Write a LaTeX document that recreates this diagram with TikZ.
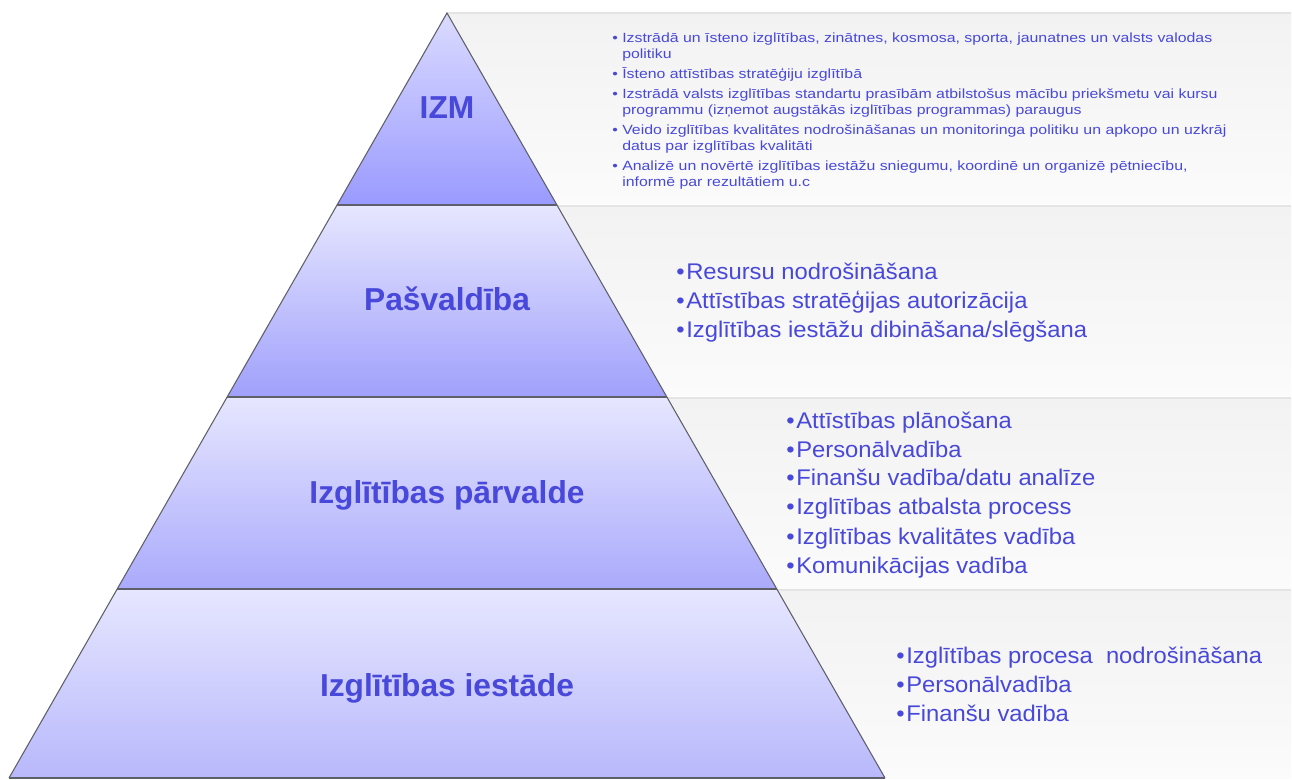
\documentclass[tikz,border=0pt]{standalone}
\usepackage{fontspec}
\setmainfont{Liberation Sans}
\newfontfamily\smallfont[FakeStretch=1.19]{Liberation Sans}
\newfontfamily\bigfont[FakeStretch=1.05]{Liberation Sans}
\definecolor{txt}{RGB}{72,72,218}
\definecolor{edgec}{RGB}{95,95,105}
\definecolor{bandtop}{RGB}{242,242,242}
\definecolor{bandbot}{RGB}{251,251,251}
\definecolor{bandline}{RGB}{228,228,228}
\definecolor{ttop}{RGB}{230,230,255}
\definecolor{tb1}{RGB}{154,154,255}
\definecolor{tb2}{RGB}{160,160,252}
\definecolor{tb3}{RGB}{170,170,252}
\definecolor{tb4}{RGB}{184,184,252}
\newcommand{\smb}[1]{\makebox[7.5pt][l]{\textbullet}#1}
\newcommand{\smc}[1]{\hspace*{7.5pt}#1}
\newcommand{\bgb}[1]{\makebox[7.5pt][l]{\textbullet}#1}
\tikzset{
  tierlabel/.style={text=txt, font=\fontsize{23.8}{26}\selectfont\bfseries, anchor=base},
  smalllist/.style={text=txt, font=\smallfont\fontsize{10}{12}\selectfont, anchor=base west, inner sep=0pt},
  biglist/.style={text=txt, font=\bigfont\fontsize{17}{21.75}\selectfont, anchor=base west, inner sep=0pt},
  tieredge/.style={draw=edgec, line width=0.8pt},
  sep/.style={draw=edgec, line width=1.5pt},
}
\begin{document}
\begin{tikzpicture}[x=0.75pt,y=-0.75pt]
\useasboundingbox (0,0) rectangle (1292,780);
\fill[white] (0,0) rectangle (1292,780);
% background bands
\foreach \ya/\yb in {13/204,206/396,398/588,590/778}{
  \shade[top color=bandtop, bottom color=bandbot] (447,\ya) rectangle (1291,\yb);
  \draw[bandline, line width=1.5pt] (447,\ya) -- (1291,\ya);
}
% pyramid tiers
\shade[top color=ttop!85!tb1, bottom color=tb1] (447,13) -- (556.9,205) -- (337.1,205) -- cycle;
\shade[top color=ttop, bottom color=tb2] (337.1,206) -- (556.9,206) -- (666.8,397) -- (227.2,397) -- cycle;
\shade[top color=ttop, bottom color=tb3] (227.2,398) -- (666.8,398) -- (776.8,589) -- (117.2,589) -- cycle;
\shade[top color=ttop, bottom color=tb4] (117.2,590) -- (776.8,590) -- (885,778) -- (9,778) -- cycle;
\draw[tieredge] (9,778) -- (447,13) -- (885,778);
\draw[tieredge] (9,778) -- (885,778);
\draw[sep] (337.1,205) -- (556.9,205);
\draw[sep] (227.2,397) -- (666.8,397);
\draw[sep] (117.2,589) -- (776.8,589);
% tier labels
\node[tierlabel] (izm) at (447,119) {IZM};
\node[tierlabel] (pasv) at (447,311) {Pašvaldība};
\node[tierlabel] (parv) at (447,503) {Izglītības pārvalde};
\node[tierlabel] (iest) at (447,696) {Izglītības iestāde};
% lists
\node[smalllist] (l1) at (612,43) {\begin{tabular}[t]{@{}l@{}}
\smb{Izstrādā un īsteno izglītības, zinātnes, kosmosa, sporta, jaunatnes un valsts valodas}\\
\smc{politiku}\\[3pt]
\smb{Īsteno attīstības stratēģiju izglītībā}\\[3pt]
\smb{Izstrādā valsts izglītības standartu prasībām atbilstošus mācību priekšmetu vai kursu}\\
\smc{programmu (izņemot augstākās izglītības programmas) paraugus}\\[3pt]
\smb{Veido izglītības kvalitātes nodrošināšanas un monitoringa politiku un apkopo un uzkrāj}\\
\smc{datus par izglītības kvalitāti}\\[3pt]
\smb{Analizē un novērtē izglītības iestāžu sniegumu, koordinē un organizē pētniecību,}\\
\smc{informē par rezultātiem u.c}
\end{tabular}};
\node[biglist] (l2) at (676,280) {\begin{tabular}[t]{@{}l@{}}
\bgb{Resursu nodrošināšana}\\
\bgb{Attīstības stratēģijas autorizācija}\\
\bgb{Izglītības iestāžu dibināšana/slēgšana}
\end{tabular}};
\node[biglist] (l3) at (786,428) {\begin{tabular}[t]{@{}l@{}}
\bgb{Attīstības plānošana}\\
\bgb{Personālvadība}\\
\bgb{Finanšu vadība/datu analīze}\\
\bgb{Izglītības atbalsta process}\\
\bgb{Izglītības kvalitātes vadība}\\
\bgb{Komunikācijas vadība}
\end{tabular}};
\node[biglist] (l4) at (896,663) {\begin{tabular}[t]{@{}l@{}}
\bgb{Izglītības procesa\ \ nodrošināšana}\\
\bgb{Personālvadība}\\
\bgb{Finanšu vadība}
\end{tabular}};
\end{tikzpicture}
\end{document}
